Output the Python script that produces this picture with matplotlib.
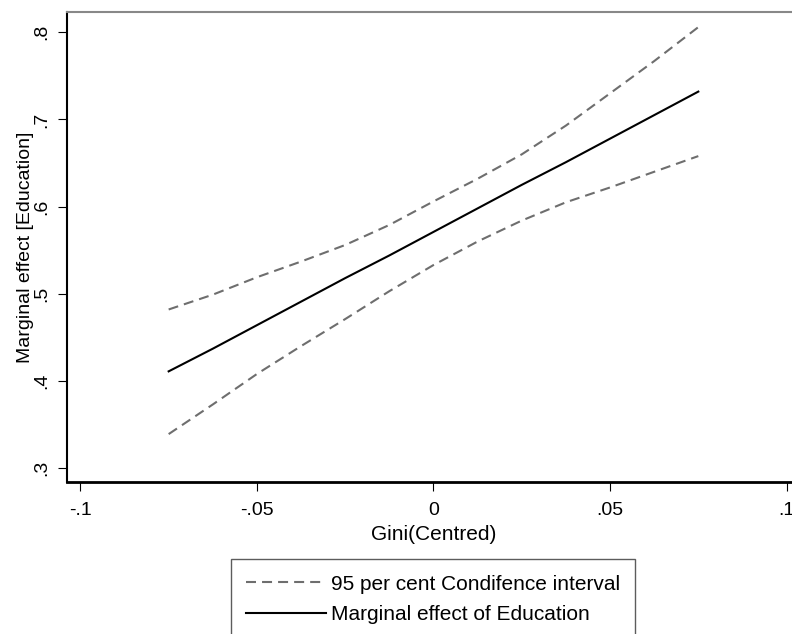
import matplotlib
matplotlib.use('Agg')
import matplotlib.pyplot as plt

plt.rcParams['font.family'] = ['Liberation Sans', 'DejaVu Sans']

# readings from the picture
gini = [-0.075, -0.0625, -0.05, -0.0375, -0.025, -0.0125, 0.0,
        0.0125, 0.025, 0.0375, 0.05, 0.0625, 0.075]
effect = [0.411, 0.437, 0.464, 0.491, 0.518, 0.544, 0.571,
          0.598, 0.625, 0.651, 0.678, 0.705, 0.732]
ci_upper = [0.482, 0.499, 0.519, 0.537, 0.556, 0.579, 0.606,
            0.632, 0.660, 0.693, 0.730, 0.767, 0.806]
ci_lower = [0.339, 0.373, 0.408, 0.440, 0.471, 0.503, 0.533,
            0.560, 0.584, 0.605, 0.622, 0.640, 0.658]

xticks = [-0.1, -0.05, 0, 0.05, 0.1]
xlabels = ['-.1', '-.05', '0', '.05', '.1']
yticks = [0.3, 0.4, 0.5, 0.6, 0.7, 0.8]
ylabels = ['.3', '.4', '.5', '.6', '.7', '.8']

fig = plt.figure(figsize=(7.92, 6.34), dpi=100)
ax = fig.add_axes([0.085, 0.2397, 0.926, 0.7409])

ci_line, = ax.plot(gini, ci_upper, color='#6e6e6e', lw=1.5, dashes=(4.8, 2.9))
ax.plot(gini, ci_lower, color='#6e6e6e', lw=1.5, dashes=(4.8, 2.9))
me_line, = ax.plot(gini, effect, color='black', lw=1.5)

ax.set_xlim(-0.1037, 0.104)
ax.set_ylim(0.284, 0.823)
ax.set_xticks(xticks, xlabels)
ax.set_yticks(yticks, ylabels)
ax.tick_params(axis='both', direction='out', length=6.5, width=0.8,
               labelsize=14, colors='black')
ax.tick_params(axis='x', pad=8)
ax.tick_params(axis='y', pad=5.5, labelrotation=90)
for lab in ax.get_yticklabels():
    lab.set_va('center')

ax.spines['left'].set_linewidth(1.5)
ax.spines['bottom'].set_linewidth(2)
ax.spines['top'].set_color('#888888')
ax.spines['top'].set_linewidth(1.5)
ax.spines['right'].set_visible(False)

ax.set_xlabel('Gini(Centred)', fontsize=15, labelpad=4)
ax.set_ylabel('Marginal effect [Education]', fontsize=14, labelpad=0)

leg = fig.legend([ci_line, me_line],
                 ['95 per cent Condifence interval', 'Marginal effect of Education'],
                 loc='upper center', bbox_to_anchor=(433 / 792, 1 - 559 / 634),
                 fontsize=15, frameon=True, fancybox=False, handlelength=3.85,
                 handletextpad=0.2, borderpad=0.75, labelspacing=0.55,
                 borderaxespad=0)
leg.get_frame().set_edgecolor('#333333')
leg.get_frame().set_linewidth(1.0)

fig.savefig('out.png', dpi=100)
